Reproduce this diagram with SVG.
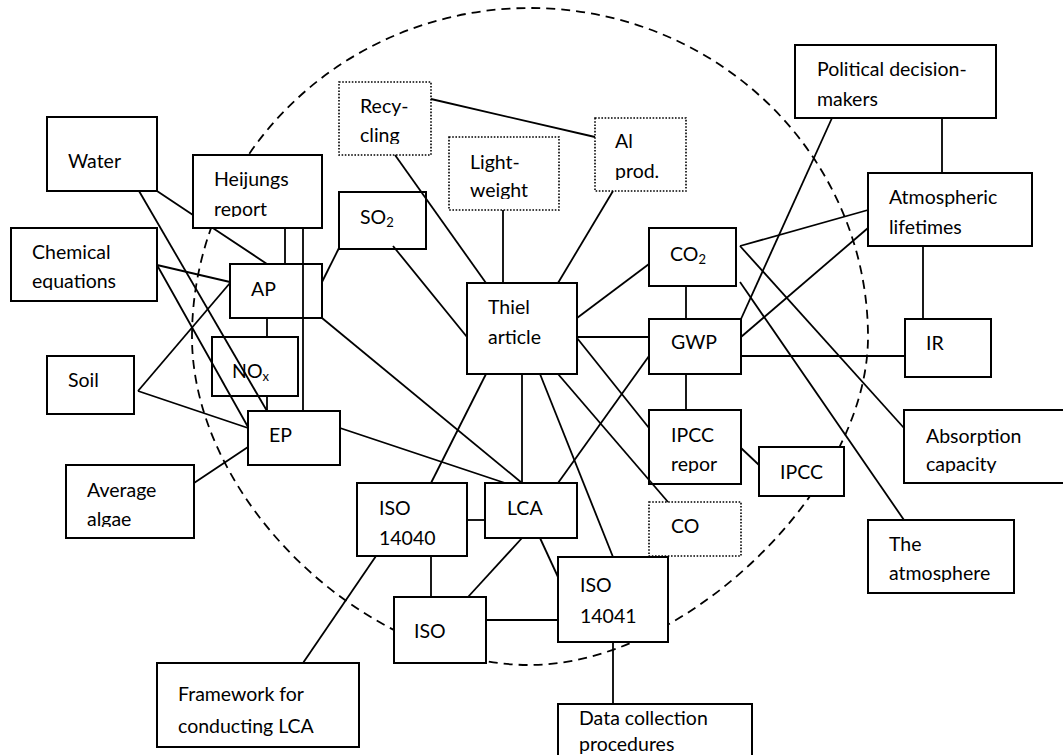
<svg xmlns="http://www.w3.org/2000/svg" width="1063" height="755" viewBox="0 0 1063 755">
  <style>
    .box { fill: #fff; stroke: #000; stroke-width: 2; }
    .dot { fill: #fff; stroke: #000; stroke-width: 1.6; stroke-dasharray: 1.6 1.6; }
    .lbl { font-family: Lato, "Liberation Sans", sans-serif; font-size: 19.5px; fill: #000; }
    .sub { font-size: 13px; }
    .edge { fill: none; stroke: #000; stroke-width: 1.8; }
    .scope { fill: none; stroke: #000; stroke-width: 1.8; stroke-dasharray: 9 6; }
  </style>
  <defs>
    <clipPath id="clip-heijungs" clipPathUnits="userSpaceOnUse"><rect x="193" y="155" width="129" height="62"/></clipPath>
    <clipPath id="clip-chemical" clipPathUnits="userSpaceOnUse"><rect x="11" y="228" width="146" height="62"/></clipPath>
    <clipPath id="clip-recycling" clipPathUnits="userSpaceOnUse"><rect x="339" y="82" width="92" height="62"/></clipPath>
    <clipPath id="clip-lightweight" clipPathUnits="userSpaceOnUse"><rect x="449" y="137" width="110" height="62"/></clipPath>
    <clipPath id="clip-alprod" clipPathUnits="userSpaceOnUse"><rect x="595" y="118" width="91" height="62"/></clipPath>
    <clipPath id="clip-algae" clipPathUnits="userSpaceOnUse"><rect x="66" y="465" width="128" height="62"/></clipPath>
    <clipPath id="clip-ipccrep" clipPathUnits="userSpaceOnUse"><rect x="649" y="410" width="92" height="63"/></clipPath>
    <clipPath id="clip-absorption" clipPathUnits="userSpaceOnUse"><rect x="904" y="410" width="170" height="63"/></clipPath>
    <clipPath id="clip-atmosphere" clipPathUnits="userSpaceOnUse"><rect x="868" y="520" width="146" height="62"/></clipPath>
    <clipPath id="clip-framework" clipPathUnits="userSpaceOnUse"><rect x="157" y="663" width="202" height="73"/></clipPath>
  </defs>

  <!-- system boundary -->
  <path class="scope" d="M192,337 A338,329 0 0 1 868,337 C868,488 685,665 530,665 C364,665 192,498 192,337 Z"/>

  <!-- nodes -->
  <g id="water"><rect class="box" x="47" y="117" width="110" height="74"/><text class="lbl" x="68" y="168">Water</text></g>
  <g id="heijungs"><rect class="box" x="193" y="155" width="129" height="73"/><g clip-path="url(#clip-heijungs)"><text class="lbl" x="214" y="186">Heijungs</text><text class="lbl" x="214" y="216">report</text></g></g>
  <g id="chemical"><rect class="box" x="11" y="228" width="146" height="73"/><g clip-path="url(#clip-chemical)"><text class="lbl" x="32" y="259">Chemical</text><text class="lbl" x="32" y="288">equations</text></g></g>
  <g id="ap"><rect class="box" x="230" y="264" width="92" height="54"/><text class="lbl" x="251" y="296">AP</text></g>
  <g id="nox"><rect class="box" x="212" y="337" width="86" height="59"/><text class="lbl" x="232" y="378">NO<tspan class="sub" dy="3">x</tspan></text></g>
  <g id="soil"><rect class="box" x="47" y="356" width="87" height="58"/><text class="lbl" x="68" y="387">Soil</text></g>
  <g id="ep"><rect class="box" x="248" y="411" width="92" height="54"/><text class="lbl" x="269" y="442">EP</text></g>
  <g id="algae"><rect class="box" x="66" y="465" width="128" height="73"/><g clip-path="url(#clip-algae)"><text class="lbl" x="87" y="497">Average</text><text class="lbl" x="87" y="526">algae</text></g></g>
  <g id="recycling"><rect class="dot" x="339" y="82" width="92" height="73"/><g clip-path="url(#clip-recycling)"><text class="lbl" x="360" y="113">Recy-</text><text class="lbl" x="360" y="142">cling</text></g></g>
  <g id="lightweight"><rect class="dot" x="449" y="137" width="110" height="73"/><g clip-path="url(#clip-lightweight)"><text class="lbl" x="470" y="169">Light-</text><text class="lbl" x="470" y="197">weight</text></g></g>
  <g id="alprod"><rect class="dot" x="595" y="118" width="91" height="73"/><g clip-path="url(#clip-alprod)"><text class="lbl" x="615" y="148">Al</text><text class="lbl" x="615" y="178">prod.</text></g></g>
  <g id="so2"><rect class="box" x="339" y="192" width="87" height="57"/><text class="lbl" x="360" y="224">SO<tspan class="sub" dy="3">2</tspan></text></g>
  <g id="thiel"><rect class="box" x="467" y="283" width="110" height="91"/><text class="lbl" x="488" y="314">Thiel</text><text class="lbl" x="488" y="344">article</text></g>
  <g id="co2"><rect class="box" x="649" y="228" width="87" height="58"/><text class="lbl" x="670" y="261">CO<tspan class="sub" dy="3">2</tspan></text></g>
  <g id="gwp"><rect class="box" x="649" y="319" width="92" height="55"/><text class="lbl" x="671" y="349">GWP</text></g>
  <g id="political"><rect class="box" x="795" y="45" width="201" height="73"/><text class="lbl" x="817" y="76">Political decision-</text><text class="lbl" x="817" y="106">makers</text></g>
  <g id="lifetimes"><rect class="box" x="868" y="173" width="164" height="73"/><text class="lbl" x="889" y="204">Atmospheric</text><text class="lbl" x="889" y="234">lifetimes</text></g>
  <g id="ir"><rect class="box" x="905" y="319" width="86" height="58"/><text class="lbl" x="926" y="350">IR</text></g>
  <g id="ipccrep"><rect class="box" x="649" y="410" width="92" height="74"/><g clip-path="url(#clip-ipccrep)"><text class="lbl" x="671" y="442">IPCC</text><text class="lbl" x="671" y="471">repor</text></g></g>
  <g id="ipcc"><rect class="box" x="759" y="447" width="85" height="49"/><text class="lbl" x="780" y="479">IPCC</text></g>
  <g id="co"><rect class="dot" x="649" y="502" width="92" height="54"/><text class="lbl" x="671" y="533">CO</text></g>
  <g id="absorption"><rect class="box" x="904" y="410" width="170" height="73"/><g clip-path="url(#clip-absorption)"><text class="lbl" x="926" y="443">Absorption</text><text class="lbl" x="926" y="471">capacity</text></g></g>
  <g id="atmosphere"><rect class="box" x="868" y="520" width="146" height="73"/><g clip-path="url(#clip-atmosphere)"><text class="lbl" x="889" y="551">The</text><text class="lbl" x="889" y="580">atmosphere</text></g></g>
  <g id="iso14040"><rect class="box" x="357" y="483" width="110" height="73"/><text class="lbl" x="379" y="515">ISO</text><text class="lbl" x="379" y="545">14040</text></g>
  <g id="lca"><rect class="box" x="485" y="483" width="92" height="55"/><text class="lbl" x="507" y="515">LCA</text></g>
  <g id="iso14041"><rect class="box" x="558" y="557" width="110" height="85"/><text class="lbl" x="580" y="592">ISO</text><text class="lbl" x="580" y="623">14041</text></g>
  <g id="iso"><rect class="box" x="394" y="597" width="92" height="66"/><text class="lbl" x="414" y="638">ISO</text></g>
  <g id="framework"><rect class="box" x="157" y="663" width="202" height="84"/><g clip-path="url(#clip-framework)"><text class="lbl" x="178" y="701">Framework for</text><text class="lbl" x="178" y="733">conducting LCA</text></g></g>
  <g id="datacollection"><rect class="box" x="558" y="704" width="194" height="70"/><text class="lbl" x="579" y="725">Data collection</text><text class="lbl" x="579" y="751">procedures</text></g>

  <!-- connectors -->
  <g id="connectors" class="edge">
    <path d="M157,191 L193,214.9 M212.8,228 L267,264"/>
    <path d="M139,191 L267,411"/>
    <path d="M285,228 L285,264"/>
    <path d="M303,228 L303,411"/>
    <path d="M157,265 L230,282"/>
    <path d="M157,265 L248,427"/>
    <path d="M138,391 L230,283"/>
    <path d="M138,391 L248,428"/>
    <path d="M267,318 L267,337"/>
    <path d="M267,396 L267,411"/>
    <path d="M322,282 L339,248"/>
    <path d="M322,318 L522,483"/>
    <path d="M340,428 L505,483"/>
    <path d="M194,483 L248,447"/>
    <path d="M393,246 L467,337"/>
    <path d="M395,155 L486,283"/>
    <path d="M431,99 L595,137"/>
    <path d="M503,210 L503,283"/>
    <path d="M613,191 L558,283"/>
    <path d="M577,318 L649,264"/>
    <path d="M577,337 L649,337"/>
    <path d="M686,286 L686,319"/>
    <path d="M686,374 L686,410"/>
    <path d="M577,338 L649,428"/>
    <path d="M558,374 L668,502"/>
    <path d="M540,374 L613,557"/>
    <path d="M522,374 L522,483"/>
    <path d="M486,374 L431,483"/>
    <path d="M649,356 L558,483"/>
    <path d="M741,448 L759,465"/>
    <path d="M741,356 L905,356"/>
    <path d="M741,319 L832,118"/>
    <path d="M741,337 L868,228"/>
    <path d="M740,246 L868,210"/>
    <path d="M740,246 L904,428"/>
    <path d="M740,282 L904,520"/>
    <path d="M942,118 L942,173"/>
    <path d="M923,246 L923,319"/>
    <path d="M467,520 L485,520"/>
    <path d="M431,556 L431,597"/>
    <path d="M522,538 L468,597"/>
    <path d="M540,538 L558,577"/>
    <path d="M486,620 L558,620"/>
    <path d="M613,642 L613,704"/>
    <path d="M376,556 L303,663"/>
  </g>
</svg>
